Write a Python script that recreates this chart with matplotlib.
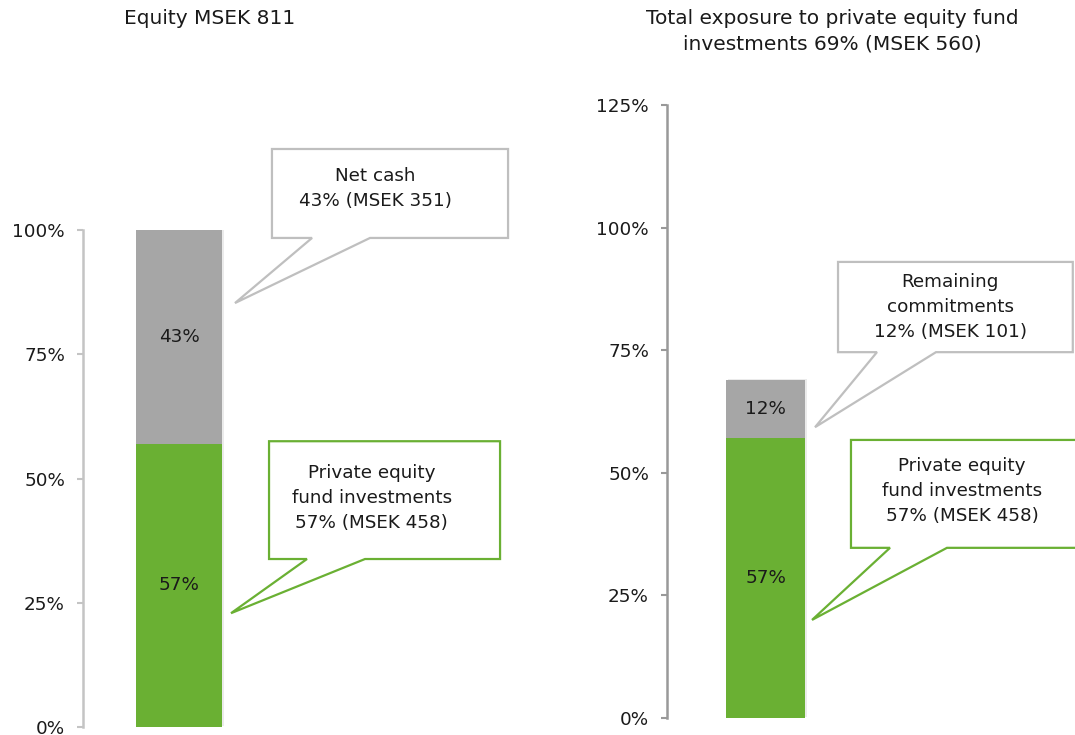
import matplotlib
matplotlib.use("Agg")
import matplotlib.pyplot as plt
import matplotlib.patheffects as pe
from matplotlib.patches import Polygon

# data
left_segments = ["Private equity fund investments", "Net cash"]
left_values = [57, 43]
right_segments = ["Private equity fund investments", "Remaining commitments"]
right_values = [57, 12]
left_title = "Equity MSEK 811"
right_title = "Total exposure to private equity fund\ninvestments 69% (MSEK 560)"
left_ticks = [0, 25, 50, 75, 100]
right_ticks = [0, 25, 50, 75, 100, 125]
left_notes = ["Private equity\nfund investments\n57% (MSEK 458)", "Net cash\n43% (MSEK 351)"]
right_notes = ["Private equity\nfund investments\n57% (MSEK 458)", "Remaining\ncommitments\n12% (MSEK 101)"]

GREEN = "#6AB033"
GREY = "#A6A6A6"
EDGE_GREY = "#BFBFBF"
TXT = "#1a1a1a"
FS = 13.2

plt.rcParams["font.family"] = ["DejaVu Sans"]

W, H = 1075, 735
fig = plt.figure(figsize=(W / 100, H / 100), dpi=100)
ax1 = fig.add_axes([83 / W, (H - 727) / H, (560 - 83) / W, 497 / H])
ax2 = fig.add_axes([667 / W, (H - 718) / H, (W - 667) / W, 613 / H])


def callout(ax, box, base, tip, color, text, text_xy):
    x0, x1, y0, y1 = box
    verts = [(x0, y1), (x1, y1), (x1, y0), (base[1], y0), tip, (base[0], y0), (x0, y0)]
    ax.add_patch(Polygon(verts, closed=True, facecolor="white", edgecolor=color,
                         lw=1.6, clip_on=False, zorder=4))
    ax.text(text_xy[0], text_xy[1], text, ha="center", va="center", multialignment="center",
            fontsize=FS, color=TXT, linespacing=1.5, zorder=5, clip_on=False)


def stacked(ax, values, ticks, ymax, spine_col):
    shadow = [pe.SimplePatchShadow(offset=(1.2, 0.8), shadow_rgbFace="#000000", alpha=0.08), pe.Normal()]
    bottom = 0
    for v, c in zip(values, [GREEN, GREY]):
        ax.bar(0, v, bottom=bottom, width=1, color=c, zorder=3, path_effects=shadow)
        ax.text(0, bottom + v / 2, f"{v}%", ha="center", va="center", fontsize=FS, color=TXT, zorder=4)
        bottom += v
    ax.set_ylim(0, ymax)
    ax.set_yticks(ticks)
    ax.set_yticklabels([f"{t}%" for t in ticks], fontsize=FS, color=TXT)
    ax.tick_params(axis="y", length=4, width=1.5, color=spine_col, pad=9)
    ax.set_xticks([])
    for s in ["top", "right", "bottom"]:
        ax.spines[s].set_visible(False)
    ax.spines["left"].set_color(spine_col)
    ax.spines["left"].set_linewidth(1.8)


stacked(ax1, left_values, left_ticks, 100, "#C4C4C4")
ax1.set_xlim(-1.116, 4.43)
stacked(ax2, right_values, right_ticks, 125, "#999999")
ax2.set_xlim(-1.247, 3.918)

callout(ax1, (1.081, 3.826, 98.4, 116.3), (1.547, 2.221), (0.651, 85.3), EDGE_GREY,
        left_notes[1], (2.28, 108.4))
callout(ax1, (1.047, 3.733, 33.8, 57.5), (1.488, 2.163), (0.605, 22.9), GREEN,
        left_notes[0], (2.24, 46.1))
callout(ax2, (0.918, 3.89, 74.6, 93.0), (1.411, 2.158), (0.627, 59.3), EDGE_GREY,
        right_notes[1], (2.34, 83.8))
callout(ax2, (1.082, 4.2, 34.7, 56.7), (1.576, 2.297), (0.589, 20.0), GREEN,
        right_notes[0], (2.49, 46.3))

fig.text(210 / W, 1 - 18 / H, left_title, ha="center", va="center", fontsize=14.5, color=TXT)
fig.text(832 / W, 1 - 31 / H, right_title, ha="center", va="center", fontsize=14.5,
         color=TXT, linespacing=1.4)

fig.savefig("out.png", dpi=100)
